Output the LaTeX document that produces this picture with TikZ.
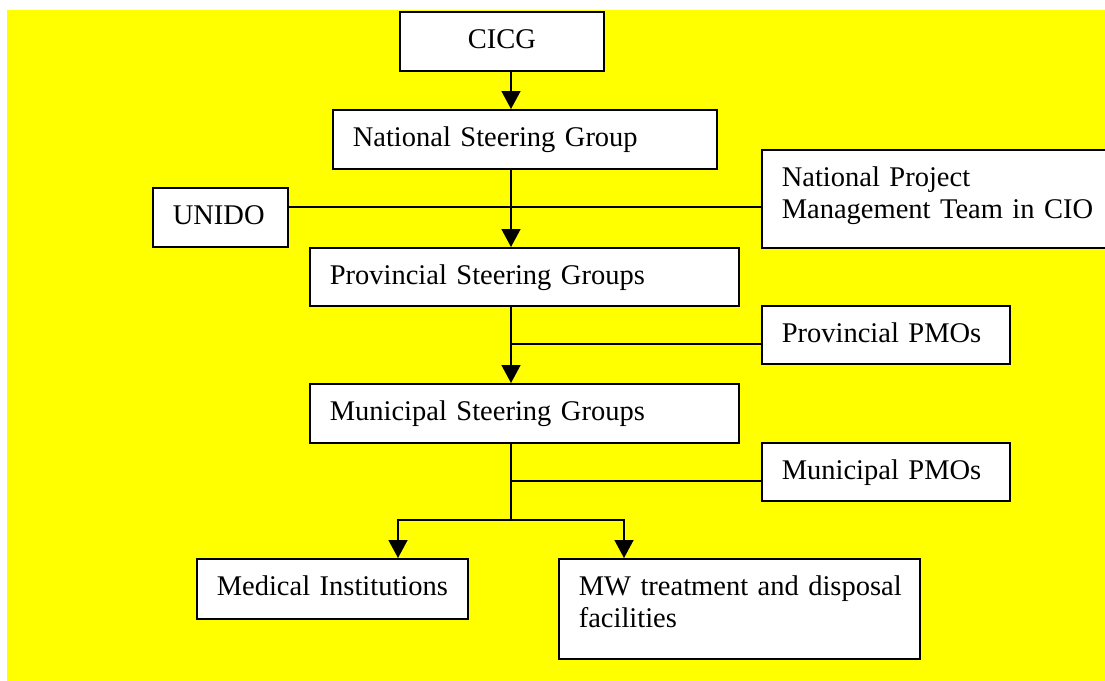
\documentclass[tikz,border=0pt]{standalone}
\usepackage{fontspec}
\setmainfont{Liberation Serif}[WordSpace=0.85]
\usetikzlibrary{arrows.meta}
\definecolor{bgyellow}{RGB}{255,255,0}
\begin{document}
\begin{tikzpicture}[x=1pt,y=-1pt,
  box/.style={draw=black, line width=1.6pt, fill=white, anchor=north west,
    inner xsep=20pt, inner ysep=0pt, align=left,
    font=\fontsize{28.5}{32}\selectfont, text height=37pt, text depth=22pt},
  conn/.style={draw=black, line width=1.5pt},
  arr/.style={conn, -{Triangle[width=19pt,length=18pt]}}]
\useasboundingbox (0,0) rectangle (1105,680);
\fill[white] (0,0) rectangle (1105,680);
\fill[bgyellow] (7,10) rectangle (1110,685);
% boxes
\node[box, align=center, text width=164pt] (CICG) at (399,11) {CICG};
\node[box, text width=344pt] (NSG) at (332,109) {\mbox{National Steering Group}};
\node[box, text width=95pt] (UNIDO) at (152,187) {\mbox{UNIDO}};
\node[box, text width=311pt, text depth=61pt] (NPMT) at (761,149) {\mbox{National Project}\\\mbox{Management Team in CIO}};
\node[box, text width=389pt, text depth=21pt] (PSG) at (309,247) {\mbox{Provincial Steering Groups}};
\node[box, text width=208pt, text depth=21pt] (PPMO) at (761,305) {\mbox{Provincial PMOs}};
\node[box, text width=389pt] (MSG) at (309,383) {\mbox{Municipal Steering Groups}};
\node[box, text width=208pt, text depth=21pt] (MPMO) at (761,442) {\mbox{Municipal PMOs}};
\node[box, text width=231pt, text depth=23pt] (MI) at (196,558) {\mbox{Medical Institutions}};
\node[box, text width=321pt, text depth=63pt] (MW) at (558,558) {\mbox{MW treatment and disposal}\\\mbox{facilities}};
% helper coordinates
\coordinate (t) at (511,0);
\coordinate (hA) at (0,207);
\coordinate (hB) at (0,344);
\coordinate (hC) at (0,481);
\coordinate (sp) at (0,520);
\coordinate (bl) at (398,0);
\coordinate (br) at (624,0);
% connectors
\draw[arr] (CICG.south -| t) -- (NSG.north -| t);
\draw[arr] (NSG.south -| t) -- (PSG.north -| t);
\draw[conn] (UNIDO.east |- hA) -- (NPMT.west |- hA);
\draw[arr] (PSG.south -| t) -- (MSG.north -| t);
\draw[conn] (t |- hB) -- (PPMO.west |- hB);
\draw[conn] (MSG.south -| t) -- (t |- sp);
\draw[conn] (t |- hC) -- (MPMO.west |- hC);
\draw[arr] (t |- sp) -| (MI.north -| bl);
\draw[arr] (t |- sp) -| (MW.north -| br);
\end{tikzpicture}
\end{document}
